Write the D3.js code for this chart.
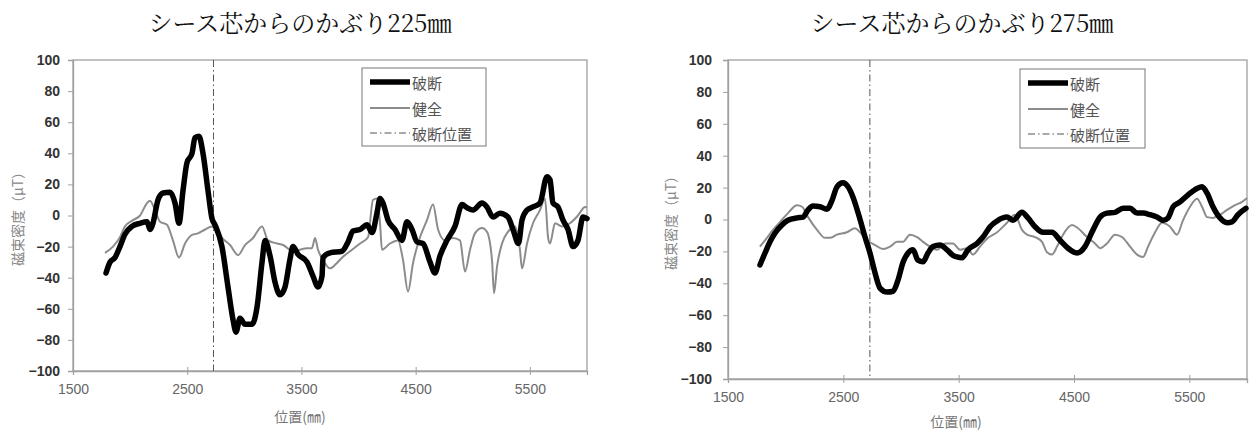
<!DOCTYPE html>
<html lang="ja">
<head>
<meta charset="UTF-8">
<title>シース芯からのかぶり</title>
<script src="https://d3js.org/d3.v7.min.js"></script>
<style>
  body { margin: 0; background: #fff; }
  svg { display: block; }
</style>
</head>
<body>
<div id="chart"></div>
<script>
// values: [position (mm), flux density (μT)]
const titles = ["シース芯からのかぶり225㎜", "シース芯からのかぶり275㎜"];
const legendLabels = ["破断", "健全", "破断位置"];
const xTicks = [1500, 2500, 3500, 4500, 5500];
const yTicks = [-100, -80, -60, -40, -20, 0, 20, 40, 60, 80, 100];
const xDomain = [1500, 6000];
const yDomain = [-100, 100];
const breakPos = 2730;

const broken225 = [
  [1789, -37], [1824, -30], [1868, -27], [1911, -20], [1955, -12], [2016, -7], [2087, -5],
  [2148, -4], [2174, -9], [2200, -5], [2244, 10], [2288, 14.5], [2349, 15], [2393, 8],
  [2428, -5], [2463, 16], [2498, 34], [2542, 40], [2568, 50], [2603, 51], [2638, 40],
  [2682, 16], [2717, -2], [2743, -6], [2804, -20], [2857, -46], [2901, -67], [2927, -75],
  [2962, -66], [3006, -70], [3067, -70], [3111, -59], [3155, -30], [3181, -16], [3225, -26],
  [3269, -43], [3312, -51], [3356, -46], [3400, -28], [3426, -20], [3470, -25], [3549, -30],
  [3601, -39], [3645, -46], [3680, -39], [3689, -27], [3750, -24], [3855, -23], [3908, -17],
  [3951, -10], [4013, -9], [4074, -6], [4118, -11], [4161, 1.5], [4188, 11], [4214, 8],
  [4258, -3], [4319, -9], [4380, -16], [4424, -4], [4468, -9], [4512, -17], [4564, -18],
  [4626, -30], [4669, -37], [4713, -26], [4774, -16], [4844, -7], [4906, 7], [4950, 5],
  [5002, 3.5], [5081, 8], [5124, 5.5], [5177, -1], [5238, 1.5], [5308, -1], [5352, -9],
  [5400, -18], [5431, -3], [5475, 3.5], [5527, 5.5], [5588, 8], [5650, 25], [5676, 23],
  [5702, 8], [5746, 5.5], [5790, -3], [5834, -9], [5878, -20], [5921, -16], [5965, -1],
  [6000, -2]
];
const sound225 = [
  [1780, -24], [1850, -20], [1911, -14], [1955, -7], [2025, -3], [2087, 0], [2148, 8],
  [2174, 9.5], [2218, 3.5], [2262, -4], [2323, -6], [2375, -16], [2428, -27], [2481, -18],
  [2542, -12.5], [2594, -11.5], [2656, -9], [2717, -7], [2743, -9], [2804, -14.5],
  [2875, -19], [2945, -25.5], [3006, -19], [3076, -14.5], [3155, -7], [3207, -16],
  [3286, -18], [3339, -19], [3426, -23], [3487, -22], [3549, -21], [3592, -21], [3619, -14.5],
  [3645, -22], [3689, -28.5], [3750, -34], [3811, -30.5], [3864, -26.5], [3943, -22],
  [4013, -18], [4083, -14], [4126, 10], [4161, 11], [4188, -5], [4205, -22], [4275, -18],
  [4345, -16], [4389, -28.5], [4433, -49], [4477, -30.5], [4538, -14], [4599, -3], [4652, 7],
  [4696, -9], [4757, -16], [4827, -14.5], [4888, -16], [4932, -36], [4976, -22], [5019, -11.5],
  [5081, -8], [5124, -10.5], [5168, -28.5], [5186, -50], [5212, -33], [5256, -18], [5308, -10.5],
  [5370, -7], [5413, -22], [5431, -34], [5475, -18], [5527, -5], [5588, 3.5], [5632, 11],
  [5659, -14], [5676, -18], [5720, -5], [5781, -7], [5851, -5], [5921, 0], [5983, 5.5],
  [6000, 5]
];
const broken275 = [
  [1777, -28.5], [1821, -21], [1864, -14], [1908, -8.5], [1968, -3.5], [2020, -0.5],
  [2098, 1], [2150, 1.5], [2194, 6], [2237, 8.5], [2298, 8], [2358, 6.5], [2402, 12],
  [2445, 20.5], [2497, 23], [2541, 20.5], [2584, 14], [2645, 0], [2688, -11], [2731, -21],
  [2775, -33.5], [2818, -43], [2879, -45.5], [2931, -45], [2974, -38], [3017, -27],
  [3061, -21], [3104, -19], [3147, -25.5], [3191, -26.5], [3234, -21], [3278, -17],
  [3338, -16], [3399, -19], [3451, -22.5], [3486, -23.5], [3529, -24], [3581, -19],
  [3659, -15], [3711, -11], [3772, -4.5], [3841, -0.5], [3919, 1.5], [3971, -0.5],
  [4049, 4.5], [4101, 1], [4162, -4.5], [4231, -8], [4309, -8], [4379, -13], [4448, -18],
  [4526, -21], [4595, -17], [4665, -6.5], [4726, 1.5], [4786, 4], [4856, 4.5], [4925, 7],
  [4986, 7], [5047, 4], [5099, 4], [5160, 3], [5220, 1.5], [5272, -0.5], [5315, 1],
  [5359, 8], [5419, 11], [5489, 15.5], [5567, 19.5], [5610, 20.5], [5654, 16.5], [5705, 8],
  [5766, 1], [5827, -2], [5870, -1.5], [5922, 3], [5991, 7]
];
const sound275 = [
  [1777, -17], [1838, -11.5], [1890, -6.5], [1951, -1.5], [2020, 4], [2098, 9], [2142, 8],
  [2194, 1.5], [2272, -6.5], [2341, -11.5], [2384, -11.5], [2445, -9.5], [2532, -8],
  [2601, -5.5], [2645, -8], [2705, -13], [2775, -16], [2844, -18.5], [2905, -17], [2966, -14],
  [3017, -14], [3078, -9.5], [3139, -11], [3191, -14], [3252, -17], [3312, -19], [3382, -15],
  [3451, -15], [3512, -19], [3572, -18], [3624, -22], [3685, -17], [3755, -11.5], [3833, -8],
  [3919, -2], [3988, 3], [4049, -6.5], [4093, -9.5], [4162, -11], [4223, -14], [4266, -20.5],
  [4309, -22], [4353, -17], [4405, -9.5], [4483, -3.5], [4535, -5.5], [4613, -11], [4682, -15],
  [4726, -18], [4786, -15], [4856, -9.5], [4916, -11], [4986, -17], [5047, -22], [5099, -23.5],
  [5142, -17], [5203, -8], [5263, -2], [5333, -4.5], [5393, -9.5], [5445, -0.5], [5506, 8],
  [5567, 13], [5610, 8], [5654, 1.5], [5705, 1], [5766, 3], [5827, 6], [5896, 9], [5957, 11],
  [6000, 13.5]
];

const panels = [
  { title: titles[0], broken: broken225, sound: sound225,
    left: 73, right: 587, top: 60, bottom: 371,
    titleX: 300, xLabelX: 300, xLabelY: 422, yLabelX: 17, yLabelPad: 8,
    legend: { x: 362, y: 68, w: 124, h: 78 } },
  { title: titles[1], broken: broken275, sound: sound275,
    left: 728, right: 1247, top: 60, bottom: 379,
    titleX: 962, xLabelX: 956, xLabelY: 427, yLabelX: 670, yLabelPad: 11,
    legend: { x: 1020, y: 69, w: 125, h: 79 } }
];

const W = 1251, H = 432;
const svg = d3.select("#chart").append("svg")
  .attr("width", W).attr("height", H)
  .style("font-family", "'Liberation Sans', Arial, sans-serif");

const frameColor = "#a0a0a0";
const soundColor = "#8c8c8c";

panels.forEach(p => {
  const x = d3.scaleLinear().domain(xDomain).range([p.left, p.right]);
  const y = d3.scaleLinear().domain(yDomain).range([p.bottom, p.top]);
  const g = svg.append("g");

  // title
  g.append("text")
    .attr("x", p.titleX).attr("y", 32)
    .attr("text-anchor", "middle")
    .style("font-family", "'Noto Serif CJK JP', 'Liberation Serif', 'Noto Sans CJK JP', serif")
    .style("font-size", "24px")
    .style("fill", "#111")
    .text(p.title);

  // plot frame
  g.append("rect")
    .attr("x", p.left).attr("y", p.top)
    .attr("width", p.right - p.left).attr("height", p.bottom - p.top)
    .attr("fill", "#fff").attr("stroke", frameColor).attr("stroke-width", 1.3);

  // y axis
  const yAxis = g.append("g")
    .attr("transform", `translate(${p.left},0)`)
    .call(d3.axisLeft(y).tickValues(yTicks).tickSize(5).tickPadding(p.yLabelPad));
  yAxis.select(".domain").attr("stroke", frameColor).attr("stroke-width", 1.3);
  yAxis.selectAll(".tick line").attr("stroke", frameColor);
  yAxis.selectAll(".tick text")
    .style("font-size", "14px").style("font-weight", "bold").style("fill", "#333");

  // x axis, ticks cross the line
  const xAxis = g.append("g")
    .attr("transform", `translate(0,${p.bottom})`)
    .call(d3.axisBottom(x).tickValues(xTicks).tickSize(4).tickPadding(9)
      .tickFormat(d3.format("d")));
  xAxis.select(".domain").attr("stroke", frameColor).attr("stroke-width", 1.3);
  xAxis.selectAll(".tick line").attr("y1", -4).attr("y2", 4).attr("stroke", frameColor);
  xAxis.selectAll(".tick text")
    .style("font-size", "14px").style("fill", "#666");

  // axis titles
  g.append("text")
    .attr("transform", `translate(${p.yLabelX},${(p.top + p.bottom) / 2}) rotate(-90)`)
    .attr("text-anchor", "middle").attr("dominant-baseline", "central")
    .style("font-family", "'Noto Sans CJK JP', sans-serif")
    .style("font-size", "14px").style("fill", "#888")
    .text("磁束密度（μT）");
  g.append("text")
    .attr("x", p.xLabelX).attr("y", p.xLabelY)
    .attr("text-anchor", "middle")
    .style("font-family", "'Noto Sans CJK JP', sans-serif")
    .style("font-size", "14px").style("fill", "#777")
    .text("位置(㎜)");

  // break position marker
  g.append("line")
    .attr("x1", x(breakPos)).attr("x2", x(breakPos))
    .attr("y1", y(yDomain[1])).attr("y2", y(yDomain[0]))
    .attr("stroke", "#555").attr("stroke-width", 1)
    .attr("stroke-dasharray", "7,3,1.5,3");

  const line = d3.line()
    .x(d => x(d[0]))
    .y(d => y(d[1]))
    .curve(d3.curveMonotoneX);

  g.append("path")
    .datum(p.sound)
    .attr("fill", "none").attr("stroke", soundColor).attr("stroke-width", 2)
    .attr("stroke-linejoin", "round")
    .attr("d", line);

  g.append("path")
    .datum(p.broken)
    .attr("fill", "none").attr("stroke", "#000").attr("stroke-width", 5.5)
    .attr("stroke-linejoin", "round").attr("stroke-linecap", "round")
    .attr("d", line);

  // legend
  const lg = g.append("g").attr("transform", `translate(${p.legend.x},${p.legend.y})`);
  lg.append("rect")
    .attr("width", p.legend.w).attr("height", p.legend.h)
    .attr("fill", "#fff").attr("stroke", "#777").attr("stroke-width", 1);
  const styles = [
    { stroke: "#000", width: 5.5, dash: null },
    { stroke: soundColor, width: 2, dash: null },
    { stroke: "#555", width: 1, dash: "7,3,1.5,3" }
  ];
  const rowY = [14, 40, 65];
  legendLabels.forEach((label, i) => {
    lg.append("line")
      .attr("x1", 8).attr("x2", 48).attr("y1", rowY[i]).attr("y2", rowY[i])
      .attr("stroke", styles[i].stroke).attr("stroke-width", styles[i].width)
      .attr("stroke-dasharray", styles[i].dash);
    lg.append("text")
      .attr("x", 50).attr("y", rowY[i])
      .attr("dominant-baseline", "central")
      .style("font-family", "'Noto Sans CJK JP', sans-serif")
      .style("font-size", "15px").style("fill", "#555")
      .text(label);
  });
});
</script>
</body>
</html>
